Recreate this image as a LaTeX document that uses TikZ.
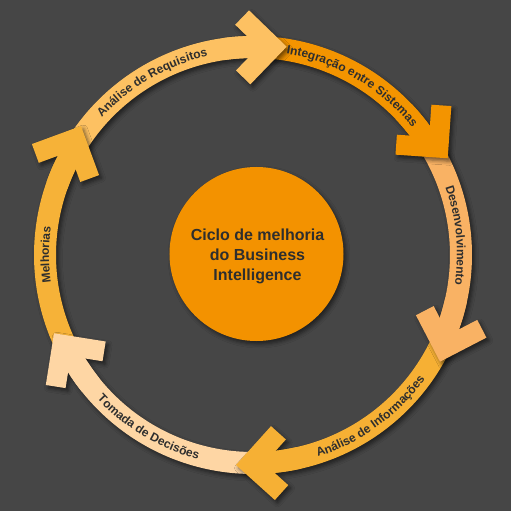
\documentclass[tikz,border=0pt]{standalone}
\usepackage{fontspec}
\setmainfont{Liberation Sans}
\usetikzlibrary{decorations.text,shadows.blur}
\definecolor{bg}{HTML}{464646}
\definecolor{core}{HTML}{F39200}
\definecolor{txt}{HTML}{2E2E2E}
\definecolor{creq}{HTML}{FDC162}
\definecolor{cint}{HTML}{F39400}
\definecolor{cdes}{HTML}{F9B264}
\definecolor{cinf}{HTML}{F6B034}
\definecolor{ctom}{HTML}{FED6A4}
\definecolor{cmel}{HTML}{F6B238}
\newcommand{\lblfont}{\fontsize{12pt}{14pt}\selectfont\bfseries}
\newcommand{\bandpath}[2]{(#1:219pt) arc[start angle=#1, end angle=#2, radius=219pt]
    -- (#2:197pt) arc[start angle=#2, end angle=#1, radius=197pt] -- cycle}
% band: start angle, end angle, colour
\newcommand{\bandseg}[3]{\fill[#3, shadowed] \bandpath{#1}{#2};}
\newcommand{\headpath}{(0,0) -- (-37,37) -- (-51.14,22.86) -- (-28.28,0) -- (-51.14,-22.86) -- (-37,-37) -- cycle}
% head: tip x, tip y, travel direction angle, colour, band end angle
\newcommand{\headseg}[5]{%
  \path[shadowed, shift={(#1,#2)}, rotate=#3-90] \headpath;
  \fill[#4] \bandpath{#5+12}{#5};
  \fill[#4, shift={(#1,#2)}, rotate=#3-90] \headpath;}
% clockwise label (letter tops outward): centre angle, text
\newcommand{\cwlabel}[2]{%
  \path[decorate, decoration={text along path, text align=center, text color=txt, text={|\lblfont|#2}}]
    (#1+35:204pt) arc[start angle=#1+35, end angle=#1-35, radius=204pt];}
% counter-clockwise label (letter tops inward): centre angle, text
\newcommand{\ccwlabel}[2]{%
  \path[decorate, decoration={text along path, text align=center, text color=txt, text={|\lblfont|#2}}]
    (#1-35:212pt) arc[start angle=#1-35, end angle=#1+35, radius=212pt];}
\tikzset{shadowed/.style={blur shadow={shadow xshift=2.5pt, shadow yshift=-3pt, shadow blur radius=4pt, shadow opacity=55}}}
\begin{document}
\begin{tikzpicture}[x=1pt, y=1pt]
\useasboundingbox (-253,-256) rectangle (258,255);
\fill[bg] (-253,-256) rectangle (258,255);
% centre
\node[circle, fill=core, minimum size=174pt, inner sep=0pt, shadowed] (core) at (3.5,1) {};
\node[align=center, text=txt, inner sep=0pt, font=\fontsize{16pt}{20pt}\selectfont\bfseries] (title) at (4.5,-1) {Ciclo de melhoria\\do Business\\Intelligence};
% bands
\bandseg{148.45}{86.2}{creq}
\bandseg{86.2}{31.6}{cint}
\bandseg{31.6}{-24.4}{cdes}
\bandseg{-24.4}{-89.2}{cinf}
\bandseg{-89.2}{-153.2}{ctom}
\bandseg{-153.2}{-211.55}{cmel}
% heads
\headseg{33.7}{208.3}{91}{creq}{86.2}
\headseg{194.7}{96.7}{41}{cint}{31.6}
\headseg{187}{-106.7}{-17.6}{cdes}{-24.4}
\headseg{-17}{-210}{-87}{cinf}{-89.2}
\headseg{-199}{-78.3}{216}{ctom}{-153.2}
\headseg{-172}{129}{155.2}{cmel}{-211.55}
% labels
\cwlabel{120.3}{Análise de Requisitos}
\cwlabel{59.6}{Integração entre Sistemas}
\cwlabel{5.5}{Desenvolvimento}
\ccwlabel{-54}{Análise de Informações}
\ccwlabel{-121.2}{Tomada de Decisões}
\cwlabel{180}{Melhorias}
\end{tikzpicture}
\end{document}
